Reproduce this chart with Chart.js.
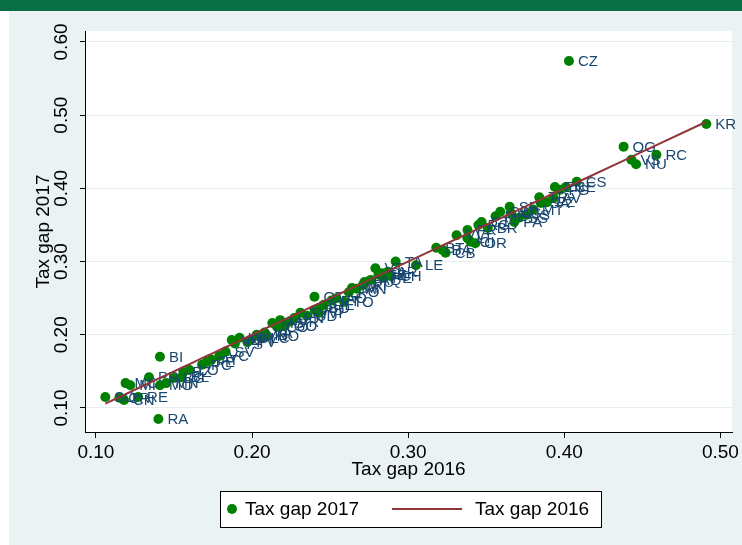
<!DOCTYPE html>
<html>
<head>
<meta charset="utf-8">
<script src="https://cdn.jsdelivr.net/npm/chart.js@4.4.1/dist/chart.umd.min.js"></script>
<style>
    html, body { margin: 0; padding: 0; background: #ffffff; }
    #wrap { width: 742px; height: 545px; position: relative; }
</style>
</head>
<body>
<div id="wrap"><canvas id="plot" width="742" height="545"></canvas></div>
<script>
// province codes with their tax gap in 2016 and 2017
const provinces = ['KR','CZ','OG','RC','VS','NU','CS','CE','EN','FG','AV','TP','SA','PZ','MT','IS','SS','PA','SR','AG',
    'CL','ME','CT','RG','BR','OR','CI','LT','FR','VV','BA','CB','BT','TA','LE','VT','CH','PE','TE','AQ',
    'RI','IM','OT','AO','TO','BO','GE','PD','VI','UD','TV','PN','VR','GO','LU','MS','NO','LC','MB','PV',
    'VB','TS','VE','SV','VC','AT','FE','PC','LO','BZ','BL','SO','CR','RE','CN','MC','MI','PR','MO','MN',
    'BG','BI','RA','FI','VA','CO','PT','PO','AN','PU','SI','AR'];
const gap2016 = [0.491,0.403,0.438,0.459,0.443,0.446,0.408,0.401,0.394,0.397,0.393,0.384,0.385,0.389,0.380,0.376,0.371,0.368,0.365,0.366,
    0.359,0.356,0.347,0.345,0.351,0.343,0.340,0.338,0.338,0.331,0.322,0.324,0.318,0.292,0.305,0.279,0.289,0.284,0.281,0.276,
    0.271,0.264,0.240,0.254,0.259,0.243,0.246,0.240,0.243,0.235,0.231,0.227,0.224,0.221,0.218,0.213,0.210,0.206,0.203,0.197,
    0.192,0.189,0.187,0.183,0.179,0.174,0.171,0.168,0.160,0.156,0.155,0.106,0.115,0.127,0.118,0.119,0.122,0.134,0.141,0.145,
    0.150,0.141,0.140,0.199,0.208,0.216,0.251,0.262,0.267,0.272,0.283,0.287];
const gap2017 = [0.488,0.574,0.457,0.446,0.439,0.433,0.409,0.402,0.402,0.398,0.387,0.388,0.380,0.381,0.371,0.364,0.360,0.354,0.375,0.366,
    0.368,0.362,0.354,0.350,0.346,0.325,0.327,0.332,0.343,0.336,0.316,0.312,0.319,0.300,0.295,0.291,0.280,0.278,0.282,0.275,
    0.268,0.264,0.252,0.250,0.245,0.237,0.241,0.234,0.230,0.226,0.230,0.223,0.218,0.212,0.220,0.216,0.198,0.196,0.200,0.190,
    0.196,0.188,0.193,0.177,0.171,0.166,0.163,0.159,0.152,0.149,0.142,0.115,0.114,0.115,0.111,0.134,0.131,0.142,0.131,0.134,
    0.141,0.170,0.085,0.193,0.203,0.211,0.247,0.258,0.263,0.272,0.284,0.286];

const xTicks = [0.1, 0.2, 0.3, 0.4, 0.5];
const yTicks = [0.1, 0.2, 0.3, 0.4, 0.5, 0.6];

const FONT = '"Liberation Sans", Arial, sans-serif';
const GREEN = '#008000';
const MAROON = '#90353b';
const NAVY = '#1a476f';

const points = gap2016.map((x, i) => ({ x: x, y: gap2017[i], label: provinces[i] }));
const linePts = gap2016.slice().sort((a, b) => a - b).map(x => ({ x: x, y: x }));

// Stata-like page: green band, light frame, white plot region
const backdrop = {
    id: 'backdrop',
    beforeDraw(chart) {
        const { ctx, chartArea: a } = chart;
        ctx.save();
        ctx.fillStyle = '#ffffff';
        ctx.fillRect(0, 0, chart.width, chart.height);
        ctx.fillStyle = '#eaf2f3';
        ctx.fillRect(9, 10, chart.width - 9, chart.height - 10);
        ctx.fillStyle = '#076e46';
        ctx.fillRect(0, 0, chart.width, 11);
        ctx.fillStyle = '#ffffff';
        ctx.fillRect(a.left, a.top, a.right - a.left, a.bottom - a.top);
        ctx.restore();
    }
};

// marker labels, drawn right after the scatter so the line sits on top
const markerLabels = {
    id: 'markerLabels',
    afterDatasetDraw(chart, args) {
        if (args.index !== 0) return;
        const { ctx } = chart;
        const xs = chart.scales.x, ys = chart.scales.y;
        ctx.save();
        ctx.font = '15px ' + FONT;
        ctx.fillStyle = NAVY;
        ctx.textAlign = 'left';
        ctx.textBaseline = 'middle';
        points.forEach(p => {
            ctx.fillText(p.label, xs.getPixelForValue(p.x) + 9, ys.getPixelForValue(p.y) + 1);
        });
        ctx.restore();
    }
};

// rotated y tick labels and the boxed legend
const extras = {
    id: 'extras',
    afterDraw(chart) {
        const { ctx } = chart;
        const ys = chart.scales.y;
        ctx.save();
        ctx.font = '19px ' + FONT;
        ctx.fillStyle = '#000';
        ctx.textAlign = 'center';
        ctx.textBaseline = 'middle';
        yTicks.forEach(v => {
            ctx.save();
            ctx.translate(ys.right - 23, ys.getPixelForValue(v));
            ctx.rotate(-Math.PI / 2);
            ctx.fillText(v.toFixed(2), 0, 0);
            ctx.restore();
        });

        // legend
        const lx = 220, ly = 491, lw = 381, lh = 36;
        ctx.fillStyle = '#ffffff';
        ctx.fillRect(lx, ly, lw, lh);
        ctx.strokeStyle = '#000';
        ctx.lineWidth = 1;
        ctx.strokeRect(lx + 0.5, ly + 0.5, lw, lh);
        const cy = ly + lh / 2;
        ctx.fillStyle = GREEN;
        ctx.beginPath();
        ctx.arc(232, cy, 5, 0, Math.PI * 2);
        ctx.fill();
        ctx.fillStyle = '#000';
        ctx.textAlign = 'left';
        ctx.fillText('Tax gap 2017', 245, cy + 1);
        ctx.strokeStyle = MAROON;
        ctx.lineWidth = 2;
        ctx.beginPath();
        ctx.moveTo(392, cy);
        ctx.lineTo(462, cy);
        ctx.stroke();
        ctx.fillText('Tax gap 2016', 475, cy + 1);
        ctx.restore();
    }
};

const ctx = document.getElementById('plot').getContext('2d');
const chart = new Chart(ctx, {
    type: 'scatter',
    data: {
        datasets: [{
            label: 'Tax gap 2017',
            data: points,
            backgroundColor: GREEN,
            borderWidth: 0,
            pointRadius: 5,
            order: 1
        }, {
            type: 'line',
            label: 'Tax gap 2016',
            data: linePts,
            borderColor: MAROON,
            borderWidth: 2,
            pointRadius: 0,
            fill: false,
            order: 0
        }]
    },
    options: {
        responsive: false,
        animation: false,
        layout: { padding: { top: 31, left: 0, right: 6, bottom: 63 } },
        plugins: {
            legend: { display: false },
            tooltip: { enabled: false }
        },
        scales: {
            x: {
                type: 'linear',
                position: 'bottom',
                min: 0.093,
                max: 0.5076,
                afterBuildTicks: (s) => { s.ticks = xTicks.map(v => ({ value: v })); },
                afterFit: (s) => { s.height = 50; },
                grid: { drawOnChartArea: false, drawTicks: true, tickLength: 6, tickColor: '#000' },
                border: { display: true, color: '#000', width: 1 },
                ticks: {
                    autoSkip: false,
                    maxRotation: 0,
                    padding: 3,
                    color: '#000',
                    font: { family: FONT, size: 19 },
                    callback: (v) => Number(v).toFixed(2)
                },
                title: {
                    display: true,
                    text: 'Tax gap 2016',
                    color: '#000',
                    font: { family: FONT, size: 19 },
                    padding: { top: 0, bottom: 1 }
                }
            },
            y: {
                type: 'linear',
                min: 0.0672,
                max: 0.615,
                afterBuildTicks: (s) => { s.ticks = yTicks.map(v => ({ value: v })); },
                afterFit: (s) => { s.width = 85; },
                grid: { color: '#e6eef0', lineWidth: 1, drawTicks: true, tickLength: 5, tickColor: '#000' },
                border: { display: true, color: '#000', width: 1 },
                ticks: { display: false },
                title: {
                    display: true,
                    text: 'Tax gap 2017',
                    color: '#000',
                    font: { family: FONT, size: 19 },
                    padding: { top: 32, bottom: 0 }
                }
            }
        }
    },
    plugins: [backdrop, markerLabels, extras]
});
</script>
</body>
</html>
